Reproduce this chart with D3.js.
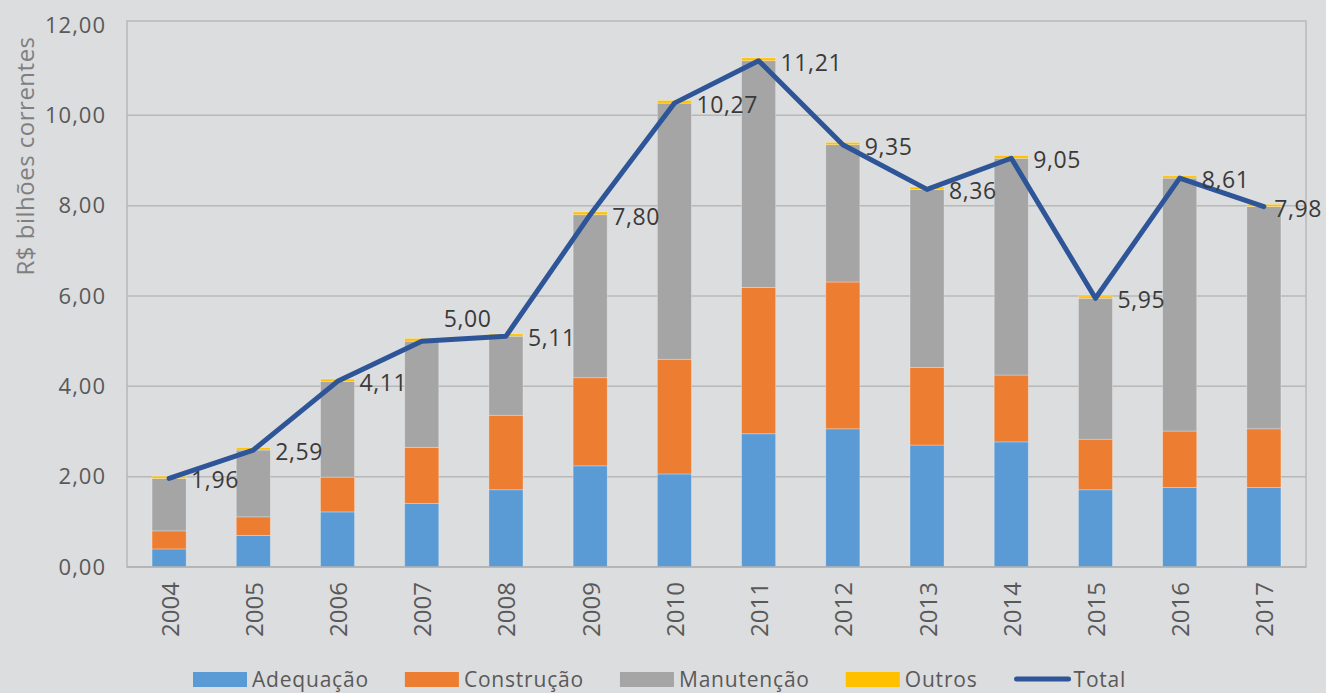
<!DOCTYPE html>
<html>
<head>
<meta charset="utf-8">
<script src="https://cdn.jsdelivr.net/npm/d3@7"></script>
<style>
  body { margin: 0; background: #dcdddf; }
  svg { display: block; font-family: "Open Sans", sans-serif; }
</style>
</head>
<body>
<svg id="chart" width="1326" height="693"></svg>
<script>
const years = ["2004","2005","2006","2007","2008","2009","2010","2011","2012","2013","2014","2015","2016","2017"];
const adequacao  = [0.40, 0.70, 1.22, 1.41, 1.71, 2.24, 2.06, 2.95, 3.06, 2.70, 2.77, 1.71, 1.76, 1.76];
const construcao = [0.40, 0.41, 0.77, 1.24, 1.65, 1.95, 2.54, 3.24, 3.25, 1.72, 1.48, 1.12, 1.25, 1.30];
const manutencao = [1.16, 1.48, 2.12, 2.35, 1.75, 3.61, 5.67, 5.02, 3.04, 3.94, 4.80, 3.12, 5.60, 4.92];
const outros     = [0.05, 0.05, 0.05, 0.06, 0.05, 0.06, 0.06, 0.06, 0.05, 0.05, 0.06, 0.05, 0.05, 0.05];
const total      = [1.96, 2.59, 4.11, 5.00, 5.11, 7.80, 10.27, 11.21, 9.35, 8.36, 9.05, 5.95, 8.61, 7.98];
const yTicks = [0, 2, 4, 6, 8, 10, 12];

const series = [
  { name: "Adequação",  values: adequacao,  color: "#5b9bd5" },
  { name: "Construção", values: construcao, color: "#ed7d31" },
  { name: "Manutenção", values: manutencao, color: "#a5a5a5" },
  { name: "Outros",     values: outros,     color: "#ffc000" }
];

const svg = d3.select("#chart");
const width = 1326, height = 693;
const plot = { left: 127, right: 1306, top: 21, bottom: 567 };

const locale = d3.formatLocale({ decimal: ",", thousands: ".", grouping: [3], currency: ["R$", ""] });
const fmt = locale.format(".2f");

const x = d3.scaleBand().domain(years).range([plot.left, plot.right]).padding(0);
const y = d3.scaleLinear().domain([0, 12]).range([plot.bottom, 25]);
const barW = x.bandwidth() * 0.405;
const cx = (yr) => x(yr) + x.bandwidth() / 2;

svg.append("rect").attr("width", width).attr("height", height).attr("fill", "#dcdddf");

// gridlines (the frame takes the place of the top one)
svg.append("g")
  .selectAll("line")
  .data(yTicks.filter(t => t > 0 && t < 12))
  .join("line")
  .attr("x1", plot.left).attr("x2", plot.right)
  .attr("y1", d => y(d)).attr("y2", d => y(d))
  .attr("stroke", "#b8b8b8").attr("stroke-width", 1.5);

svg.append("rect")
  .attr("x", plot.left).attr("y", plot.top)
  .attr("width", plot.right - plot.left).attr("height", plot.bottom - plot.top)
  .attr("fill", "none").attr("stroke", "#b8b8b8").attr("stroke-width", 1.5);

// stacked bars
const table = years.map((yr, i) => {
  const row = { year: yr };
  series.forEach(s => row[s.name] = s.values[i]);
  return row;
});
const stacked = d3.stack().keys(series.map(s => s.name))(table);

svg.append("g")
  .selectAll("g")
  .data(stacked)
  .join("g")
  .attr("fill", (d, i) => series[i].color)
  .selectAll("rect")
  .data(d => d)
  .join("rect")
  .attr("x", d => cx(d.data.year) - barW / 2)
  .attr("width", barW)
  .attr("y", d => y(d[1]))
  .attr("height", d => y(d[0]) - y(d[1]))
  .attr("stroke", "rgba(255,255,255,0.35)")
  .attr("stroke-width", 0.8);

svg.append("line")
  .attr("x1", plot.left).attr("x2", plot.right)
  .attr("y1", plot.bottom).attr("y2", plot.bottom)
  .attr("stroke", "#b0b0b0").attr("stroke-width", 1.5);

// total line
const line = d3.line().x((d, i) => cx(years[i])).y(d => y(d));
svg.append("path")
  .datum(total)
  .attr("d", line)
  .attr("fill", "none")
  .attr("stroke", "#2e5597")
  .attr("stroke-width", 5)
  .attr("stroke-linejoin", "round")
  .attr("stroke-linecap", "round");

// data labels, kept inside the picture
svg.append("g")
  .selectAll("text")
  .data(total)
  .join("text")
  .attr("y", (d, i) => y(d) + (years[i] === "2007" ? -23 : 1))
  .attr("dominant-baseline", "central")
  .attr("font-size", 23)
  .attr("letter-spacing", 0.6)
  .attr("fill", "#3a3a3a")
  .text(d => fmt(d))
  .attr("x", function(d, i) {
    const w = this.getComputedTextLength();
    return Math.min(cx(years[i]) + 22, width - w - 4);
  });

// y axis
const yAxis = svg.append("g")
  .attr("transform", `translate(${plot.left},0)`)
  .call(d3.axisLeft(y).tickValues(yTicks).tickSize(0).tickPadding(21).tickFormat(fmt));
yAxis.select(".domain").remove();
yAxis.selectAll("text")
  .attr("font-size", 22)
  .attr("letter-spacing", 1)
  .attr("font-family", "Open Sans, sans-serif")
  .attr("fill", "#595959");

// x labels
svg.append("g")
  .selectAll("text")
  .data(years)
  .join("text")
  .attr("transform", d => `translate(${cx(d)},582) rotate(-90)`)
  .attr("text-anchor", "end")
  .attr("dominant-baseline", "central")
  .attr("font-size", 24)
  .attr("fill", "#595959")
  .text(d => d);

svg.append("text")
  .attr("transform", "translate(24,156) rotate(-90)")
  .attr("text-anchor", "middle")
  .attr("dominant-baseline", "central")
  .attr("font-size", 24)
  .attr("letter-spacing", 0.5)
  .attr("fill", "#7f7f7f")
  .text("R$ bilhões correntes");

// legend
const legendItems = series.map(s => ({ name: s.name, color: s.color, type: "rect" }))
  .concat([{ name: "Total", color: "#2e5597", type: "line" }]);
const legend = svg.append("g");
let lx = 193;
const ly = 679;
legendItems.forEach(it => {
  let tx;
  if (it.type === "rect") {
    legend.append("rect").attr("x", lx).attr("y", ly - 7).attr("width", 54).attr("height", 15).attr("fill", it.color);
    tx = lx + 59;
  } else {
    legend.append("line").attr("x1", lx + 3).attr("x2", lx + 55).attr("y1", ly).attr("y2", ly)
      .attr("stroke", it.color).attr("stroke-width", 5).attr("stroke-linecap", "round");
    tx = lx + 60;
  }
  const t = legend.append("text")
    .attr("x", tx).attr("y", ly)
    .attr("dominant-baseline", "central")
    .attr("font-size", 21)
    .attr("letter-spacing", 0.8)
    .attr("fill", "#595959")
    .text(it.name);
  lx = tx + t.node().getComputedTextLength() + 36;
});
</script>
</body>
</html>
